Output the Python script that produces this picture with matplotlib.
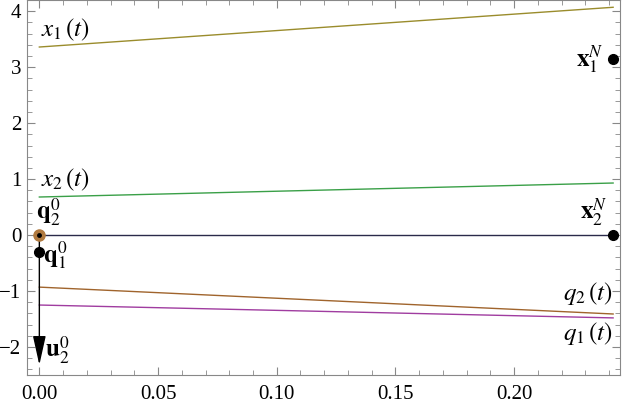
import matplotlib
matplotlib.use("Agg")
import matplotlib.pyplot as plt
from matplotlib.ticker import MultipleLocator

plt.rcParams['font.family'] = ['Liberation Serif', 'DejaVu Serif']
plt.rcParams['mathtext.fontset'] = 'stix'

t_span = [0.0, 0.2417]
x1_vals = [3.36, 4.07]
x2_vals = [0.68, 0.93]
q2_vals = [-0.93, -1.41]
q1_vals = [-1.25, -1.48]
zero_line = [0.0, 0.0]
xN_t = [0.2417, 0.2417]
xN_vals = [3.14, 0.0]
q0_t = [0.0, 0.0]
q0_vals = [0.0, -0.3]
u_start = 0.0
u_end = -2.32

fig = plt.figure(figsize=(6.25, 4.04), dpi=100)
ax = fig.add_axes([0.0432, 0.0718, 0.9488, 0.9282])

ax.plot(t_span, x1_vals, color='#9a8c2c', lw=1.0)
ax.plot(t_span, x2_vals, color='#3aa048', lw=1.0)
ax.plot(t_span, q2_vals, color='#a0642c', lw=1.0)
ax.plot(t_span, q1_vals, color='#a03ca0', lw=1.0)
ax.plot(t_span, zero_line, color='#2a2a4a', lw=1.0)

ax.annotate('', xy=(0.0, u_end), xytext=(0.0, u_start),
            arrowprops=dict(arrowstyle='-|>,head_length=1.8,head_width=0.4',
                            color='black', lw=1.0, shrinkA=0, shrinkB=0))

ax.plot(xN_t, xN_vals, 'o', color='black', ms=7, zorder=5)
ax.plot([q0_t[1]], [q0_vals[1]], 'o', color='black', ms=7, zorder=5)
ax.plot([q0_t[0]], [q0_vals[0]], 'o', color='#b07a40', ms=8, zorder=5)
ax.plot([q0_t[0]], [q0_vals[0]], 'o', color='black', ms=2.5, zorder=6)

fs = 18
ax.text(0.0005, 3.66, r'$x_1\,\left(t\right)$', fontsize=fs, ha='left', va='center')
ax.text(0.0005, 0.98, r'$x_2\,\left(t\right)$', fontsize=fs, ha='left', va='center')
ax.text(0.2205, -1.04, r'$q_2\,\left(t\right)$', fontsize=fs, ha='left', va='center')
ax.text(0.2205, -1.75, r'$q_1\,\left(t\right)$', fontsize=fs, ha='left', va='center')
ax.text(0.2375, 3.14, r'$\mathbf{x}_1^N$', fontsize=fs, ha='right', va='center')
ax.text(0.2395, 0.4, r'$\mathbf{x}_2^N$', fontsize=fs, ha='right', va='center')
ax.text(-0.0015, 0.4, r'$\mathbf{q}_2^0$', fontsize=fs, ha='left', va='center')
ax.text(0.0015, -0.35, r'$\mathbf{q}_1^0$', fontsize=fs, ha='left', va='center')
ax.text(0.0025, -2.05, r'$\mathbf{u}_2^0$', fontsize=fs, ha='left', va='center')

ax.set_xlim(-0.0052, 0.2446)
ax.set_ylim(-2.5, 4.2)
ax.xaxis.set_major_locator(MultipleLocator(0.05))
ax.xaxis.set_minor_locator(MultipleLocator(0.01))
ax.yaxis.set_major_locator(MultipleLocator(1))
ax.yaxis.set_minor_locator(MultipleLocator(0.2))
ax.xaxis.set_major_formatter(matplotlib.ticker.FormatStrFormatter('%.2f'))
ax.yaxis.set_major_formatter(matplotlib.ticker.FuncFormatter(lambda v, p: ('\u2212%d' % -v) if v < 0 else '%d' % v))

for s in ax.spines.values():
    s.set_color('#888888')
    s.set_linewidth(0.8)
ax.tick_params(which='both', direction='in', color='#888888', top=True, right=True,
               labelsize=15, labelcolor='black')
ax.tick_params(which='major', length=6, width=0.8)
ax.tick_params(which='minor', length=3.5, width=0.6)
ax.tick_params(axis='x', pad=7)
ax.tick_params(axis='y', pad=4)

fig.savefig('out.png', dpi=100)
